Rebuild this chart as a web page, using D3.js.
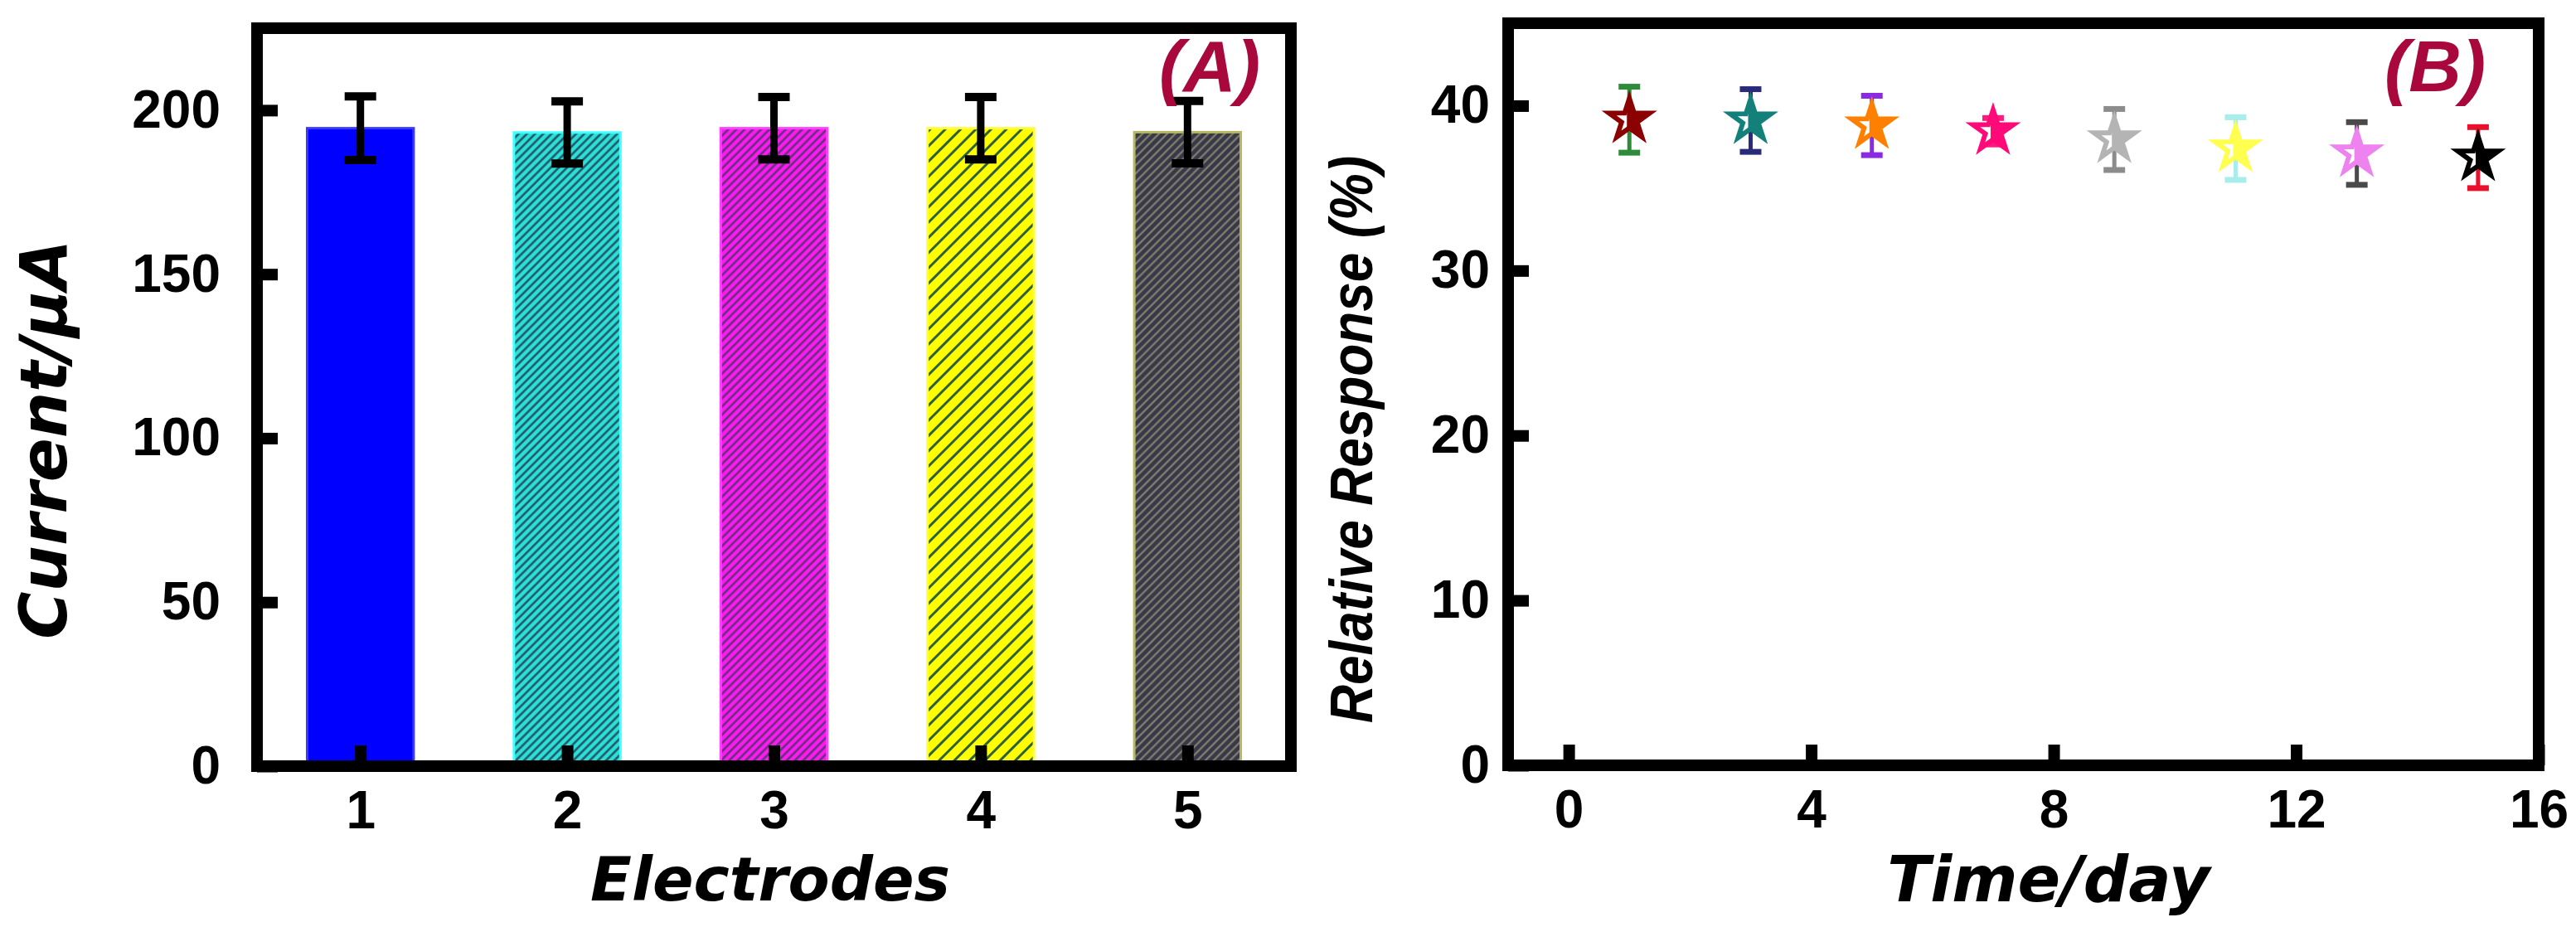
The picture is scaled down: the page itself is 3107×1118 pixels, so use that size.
<!DOCTYPE html>
<html><head><meta charset="utf-8">
<script src="https://cdn.jsdelivr.net/npm/d3@7"></script>
<style>html,body{margin:0;padding:0;background:#fff;}svg{display:block;}</style>
</head><body>
<svg id="chart" width="3107" height="1118"></svg>
<script>
// ---------- data ----------
const electrodes = [1, 2, 3, 4, 5];
const currents = [194.5, 193.2, 194.5, 194.5, 193.3];
const currentErr = [9.7, 9.5, 9.5, 9.5, 9.5];
const currentTicks = [0, 50, 100, 150, 200];

const days = [1, 3, 5, 7, 9, 11, 13, 15];
const responses = [39.15, 39.1, 38.8, 38.45, 37.95, 37.4, 37.1, 36.85];
const responseErr = [2.0, 1.9, 1.8, 0.8, 1.85, 1.9, 1.9, 1.85];
const dayTicks = [0, 4, 8, 12, 16];
const responseTicks = [0, 10, 20, 30, 40];

// ---------- styles ----------
const barStyles = [
  {bg: "#0000ff", line: null, edge: "#3a3aff"},
  {bg: "#2ae0d2", line: "#24506a", w: 2.5, s: 7, edge: "#40ffff"},
  {bg: "#ff18f0", line: "#5a3478", w: 2.5, s: 7, edge: "#ff40ff"},
  {bg: "#ffff00", line: "#2f5f3f", w: 3, s: 13, edge: "#ffff40"},
  {bg: "#38384a", line: "#8a8a70", w: 2, s: 7, edge: "#b8b860"}
];
const starColors = ["#8b0000", "#13807a", "#ff8000", "#ff0a78", "#b4b4b4", "#ffff50", "#ee82ee", "#000000"];
const errColors = ["#2e8b3a", "#2a2a7a", "#8a2be2", "#ff1a80", "#8c8c8c", "#a8ecec", "#4a4a4a", "#e8102a"];

const svg = d3.select("#chart");
const defs = svg.append("defs");
const numFont = "'Liberation Sans', Arial, sans-serif";
const titleFont = "'DejaVu Sans', Verdana, sans-serif";
const frameW = 14;

barStyles.forEach((st, i) => {
  if (!st.line) return;
  const p = defs.append("pattern").attr("id", "hatch" + i)
    .attr("patternUnits", "userSpaceOnUse").attr("width", st.s).attr("height", st.s)
    .attr("patternTransform", "rotate(45)");
  p.append("rect").attr("width", st.s).attr("height", st.s).attr("fill", st.bg);
  p.append("line").attr("x1", st.s / 2).attr("x2", st.s / 2).attr("y1", 0).attr("y2", st.s)
    .attr("stroke", st.line).attr("stroke-width", st.w);
});
defs.append("clipPath").attr("id", "lefthalf").append("rect")
  .attr("x", -40).attr("y", -40).attr("width", 37).attr("height", 80);

function styleAxis(g) {
  g.select(".domain").remove();
  g.selectAll(".tick line").attr("stroke", "#000").attr("stroke-width", 14);
  g.selectAll(".tick text").attr("fill", "#000").attr("font-family", numFont)
    .attr("font-weight", "bold").attr("font-size", 64);
}

// ---------- Panel A ----------
const xA = d3.scaleLinear().domain([0.5, 5.5]).range([310, 1557]);
const yA = d3.scaleLinear().domain([0, 225]).range([924, 34]);
const gA = svg.append("g");
const barW = (xA(2) - xA(1)) * 0.515;

gA.selectAll("rect.bar").data(electrodes).join("rect").attr("class", "bar")
  .attr("x", (d) => xA(d) - barW / 2).attr("width", barW)
  .attr("y", (d, i) => yA(currents[i])).attr("height", (d, i) => yA(0) - yA(currents[i]))
  .attr("fill", (d, i) => barStyles[i].line ? `url(#hatch${i})` : barStyles[i].bg)
  .attr("stroke", (d, i) => barStyles[i].edge).attr("stroke-width", 3);

const errA = gA.selectAll("g.err").data(electrodes).join("g").attr("class", "err");
errA.append("line").attr("x1", (d) => xA(d)).attr("x2", (d) => xA(d))
  .attr("y1", (d, i) => yA(currents[i] + currentErr[i])).attr("y2", (d, i) => yA(currents[i] - currentErr[i]))
  .attr("stroke", "#000").attr("stroke-width", 9);
[1, -1].forEach((sgn) => {
  errA.append("line").attr("x1", (d) => xA(d) - 19).attr("x2", (d) => xA(d) + 19)
    .attr("y1", (d, i) => yA(currents[i] + sgn * currentErr[i])).attr("y2", (d, i) => yA(currents[i] + sgn * currentErr[i]))
    .attr("stroke", "#000").attr("stroke-width", 10);
});

gA.append("g").attr("transform", `translate(0,${yA(0)})`)
  .call(d3.axisBottom(xA).tickValues(electrodes).tickFormat(d3.format("d")).tickSize(-25).tickPadding(30))
  .call(styleAxis);
gA.append("g").attr("transform", `translate(${xA.range()[0]},0)`)
  .call(d3.axisLeft(yA).tickValues(currentTicks).tickSize(-25).tickPadding(44))
  .call(styleAxis);
gA.append("rect").attr("x", xA.range()[0]).attr("y", yA.range()[1])
  .attr("width", xA.range()[1] - xA.range()[0]).attr("height", yA.range()[0] - yA.range()[1])
  .attr("fill", "none").attr("stroke", "#000").attr("stroke-width", frameW);

gA.append("text").attr("x", 929).attr("y", 1086).attr("text-anchor", "middle")
  .attr("font-family", titleFont).attr("font-weight", "bold").attr("font-style", "oblique")
  .attr("font-size", 73).text("Electrodes");
gA.append("text").attr("transform", "translate(80,530) rotate(-90)").attr("text-anchor", "middle")
  .attr("font-family", titleFont).attr("font-weight", "bold").attr("font-style", "oblique")
  .attr("font-size", 78).text("Current/μA");
gA.append("text").attr("x", 1398).attr("y", 110)
  .attr("font-family", numFont).attr("font-weight", "bold").attr("font-style", "italic")
  .attr("font-size", 88).attr("fill", "#a8083c").text("(A)");

// ---------- Panel B ----------
const xB = d3.scaleLinear().domain([-1, 16]).range([1819, 3062]);
const yB = d3.scaleLinear().domain([0, 45]).range([923, 28]);
const gB = svg.append("g");

gB.append("g").attr("transform", `translate(0,${yB(0)})`)
  .call(d3.axisBottom(xB).tickValues(dayTicks).tickSize(-25).tickPadding(30))
  .call(styleAxis);
gB.append("g").attr("transform", `translate(${xB.range()[0]},0)`)
  .call(d3.axisLeft(yB).tickValues(responseTicks).tickSize(-25).tickPadding(22))
  .call(styleAxis);

const errB = gB.selectAll("g.err").data(days).join("g").attr("class", "err");
errB.append("line").attr("x1", (d) => xB(d)).attr("x2", (d) => xB(d))
  .attr("y1", (d, i) => yB(responses[i] + responseErr[i])).attr("y2", (d, i) => yB(responses[i] - responseErr[i]))
  .attr("stroke", (d, i) => errColors[i]).attr("stroke-width", 5);
[1, -1].forEach((sgn) => {
  errB.append("line").attr("x1", (d) => xB(d) - 13).attr("x2", (d) => xB(d) + 13)
    .attr("y1", (d, i) => yB(responses[i] + sgn * responseErr[i])).attr("y2", (d, i) => yB(responses[i] + sgn * responseErr[i]))
    .attr("stroke", (d, i) => errColors[i]).attr("stroke-width", 7);
});

const starPath = d3.symbol().type(d3.symbolStar).size(1150)();
const innerPath = d3.symbol().type(d3.symbolStar).size(300)();
const stars = gB.selectAll("g.star").data(days).join("g").attr("class", "star")
  .attr("transform", (d, i) => `translate(${xB(d)},${yB(responses[i])})`);
stars.append("path").attr("d", starPath).attr("fill", (d, i) => starColors[i])
  .attr("stroke", (d, i) => starColors[i]).attr("stroke-width", 2);
stars.append("path").attr("d", innerPath).attr("fill", "#fff").attr("clip-path", "url(#lefthalf)");

gB.append("rect").attr("x", xB.range()[0]).attr("y", yB.range()[1])
  .attr("width", xB.range()[1] - xB.range()[0]).attr("height", yB.range()[0] - yB.range()[1])
  .attr("fill", "none").attr("stroke", "#000").attr("stroke-width", frameW);

gB.append("text").attr("x", 2471).attr("y", 1087).attr("text-anchor", "middle")
  .attr("font-family", titleFont).attr("font-weight", "bold").attr("font-style", "oblique")
  .attr("font-size", 76).text("Time/day");
gB.append("text").attr("transform", "translate(1655,530) rotate(-90)").attr("text-anchor", "middle")
  .attr("font-family", numFont).attr("font-weight", "bold").attr("font-style", "italic")
  .attr("font-size", 72).attr("textLength", 684).attr("lengthAdjust", "spacingAndGlyphs")
  .text("Relative Response (%)");
gB.append("text").attr("x", 2876).attr("y", 110)
  .attr("font-family", numFont).attr("font-weight", "bold").attr("font-style", "italic")
  .attr("font-size", 88).attr("fill", "#a8083c").text("(B)");
</script>
</body></html>
